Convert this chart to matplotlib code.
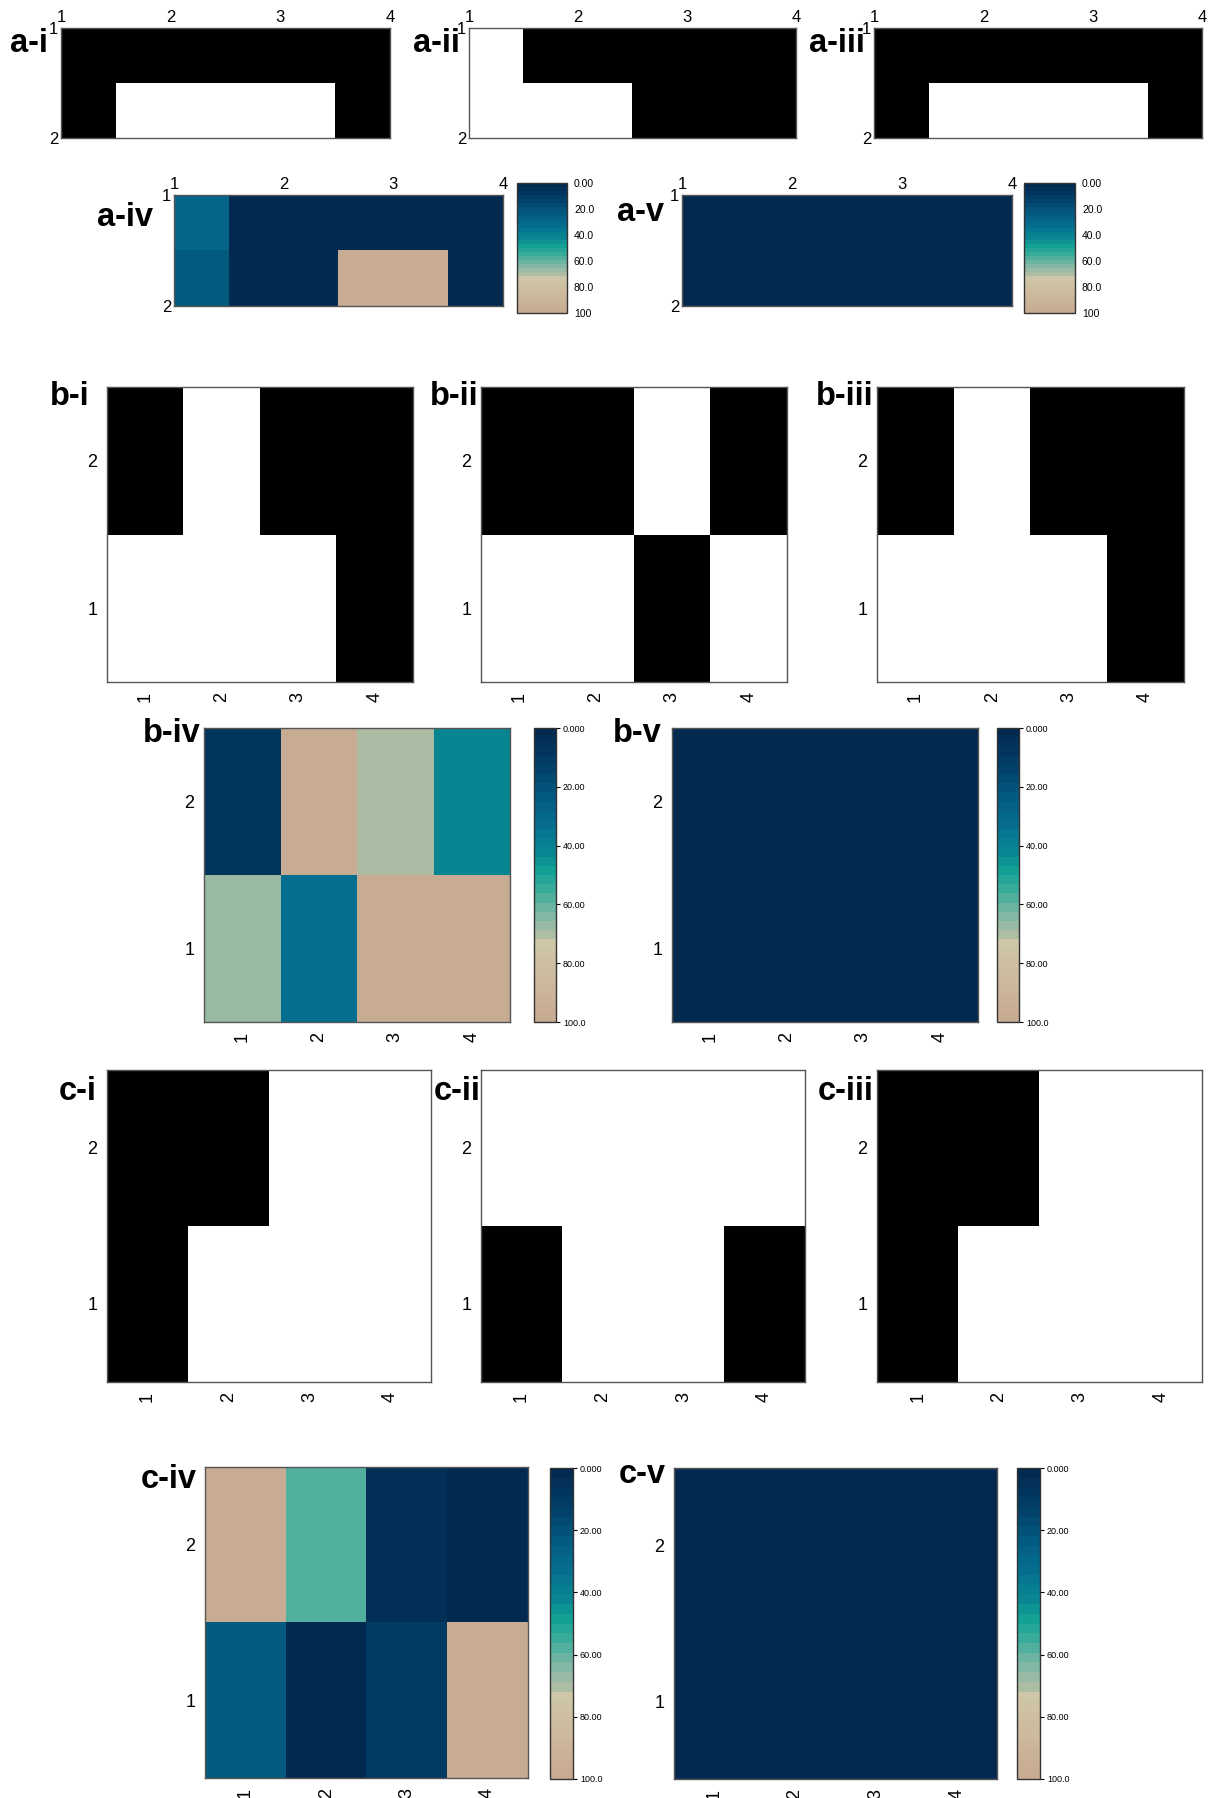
import numpy as np
import matplotlib
matplotlib.use('Agg')
from matplotlib import pyplot as plt
from matplotlib.colors import ListedColormap, LinearSegmentedColormap

plt.rcParams['font.family'] = ['Liberation Sans', 'DejaVu Sans']

W, H = 1210, 1798

# grid values, rows listed in the order they are stored (row 1 first)
a_i = [[1, 1, 1, 1], [1, 0, 0, 1]]
a_ii = [[0, 1, 1, 1], [0, 0, 1, 1]]
a_iii = [[1, 1, 1, 1], [1, 0, 0, 1]]
a_iv = [[30, 0, 0, 0], [22, 0, 100, 0]]
a_v = [[0, 0, 0, 0], [0, 0, 0, 0]]

b_i = [[0, 0, 0, 1], [1, 0, 1, 1]]
b_ii = [[0, 0, 1, 0], [1, 1, 0, 1]]
b_iii = [[0, 0, 0, 1], [1, 0, 1, 1]]
b_iv = [[67, 33, 100, 100], [8, 100, 71, 42]]
b_v = [[0, 0, 0, 0], [0, 0, 0, 0]]

c_i = [[1, 0, 0, 0], [1, 1, 0, 0]]
c_ii = [[1, 0, 0, 1], [0, 0, 0, 0]]
c_iii = [[1, 0, 0, 0], [1, 1, 0, 0]]
c_iv = [[23, 0, 10, 100], [100, 57, 6, 0]]
c_v = [[0, 0, 0, 0], [0, 0, 0, 0]]

x_ticks = [1, 2, 3, 4]
y_ticks = [1, 2]
cbar_ticks = [0, 20, 40, 60, 80, 100]
cbar_labels_short = ['0.00', '20.0', '40.0', '60.0', '80.0', '100']
cbar_labels_long = ['0.000', '20.00', '40.00', '60.00', '80.00', '100.0']

binary = ListedColormap(['white', 'black'])
ocean = LinearSegmentedColormap.from_list('ocean_sand', [
    (0.00, '#022a50'),
    (0.12, '#023f68'),
    (0.22, '#03597f'),
    (0.33, '#057090'),
    (0.42, '#0a8692'),
    (0.48, '#10a094'),
    (0.55, '#3aab9b'),
    (0.62, '#6fb5a2'),
    (0.68, '#9bbaa4'),
    (0.72, '#b2bea4'),
    (0.74, '#cec6a6'),
    (0.85, '#cebb9f'),
    (1.00, '#c7ab92'),
], N=32)

fig = plt.figure(figsize=(W / 100, H / 100), dpi=100)


def px_axes(x0, y0, x1, y1):
    return fig.add_axes([x0 / W, 1 - y1 / H, (x1 - x0) / W, (y1 - y0) / H])


def style_spines(ax):
    for s in ax.spines.values():
        s.set_color('#555555')
        s.set_linewidth(1)


def panel_label(label, pos):
    fig.text(pos[0] / W, 1 - pos[1] / H, label, ha='right', va='baseline',
             fontsize=23.5, fontweight='bold')


def top_panel(box, data, label, pos, cmap, vmin, vmax):
    ax = px_axes(*box)
    im = ax.imshow(np.array(data), cmap=cmap, vmin=vmin, vmax=vmax, origin='upper',
                   extent=[0.5, 4.5, 2.5, 0.5], aspect='auto', interpolation='nearest')
    ax.set_xlim(1, 4)
    ax.set_ylim(2, 1)
    ax.xaxis.tick_top()
    ax.set_xticks(x_ticks)
    ax.set_yticks(y_ticks)
    ax.tick_params(length=0, labelsize=12, pad=2)
    style_spines(ax)
    panel_label(label, pos)
    return im


def grid_panel(box, data, label, pos, cmap, vmin, vmax):
    ax = px_axes(*box)
    im = ax.imshow(np.array(data), cmap=cmap, vmin=vmin, vmax=vmax, origin='lower',
                   extent=[0.5, 4.5, 0.5, 2.5], aspect='auto', interpolation='nearest')
    ax.set_xticks(x_ticks)
    ax.set_yticks(y_ticks)
    ax.tick_params(length=0, labelsize=13, pad=7)
    for t in ax.get_xticklabels():
        t.set_rotation(90)
    style_spines(ax)
    panel_label(label, pos)
    return im


def add_cbar(im, box, labels, ticklen, fsize):
    cax = px_axes(*box)
    cb = fig.colorbar(im, cax=cax)
    cax.set_ylim(100, 0)
    cb.set_ticks(cbar_ticks)
    cb.set_ticklabels(labels)
    cax.tick_params(length=ticklen, width=0.8, labelsize=fsize, pad=2 if ticklen else 5)
    cb.outline.set_edgecolor('#333333')
    cb.outline.set_linewidth(1)


# row a
top_panel((61, 28, 390, 138), a_i, 'a-i', (48, 52), binary, 0, 1)
top_panel((469, 28, 796, 138), a_ii, 'a-ii', (460, 52), binary, 0, 1)
top_panel((874, 28, 1202, 138), a_iii, 'a-iii', (865, 52), binary, 0, 1)
im = top_panel((174, 195, 503, 306), a_iv, 'a-iv', (153, 226), ocean, 0, 100)
add_cbar(im, (517, 183, 567, 313), cbar_labels_short, 0, 7.5)
im = top_panel((682, 195, 1012, 306), a_v, 'a-v', (664, 221), ocean, 0, 100)
add_cbar(im, (1024, 183, 1075, 313), cbar_labels_short, 0, 7.5)

# row b
grid_panel((107, 387, 413, 682), b_i, 'b-i', (90, 405), binary, 0, 1)
grid_panel((481, 387, 787, 682), b_ii, 'b-ii', (478, 405), binary, 0, 1)
grid_panel((877, 387, 1184, 682), b_iii, 'b-iii', (873, 405), binary, 0, 1)
im = grid_panel((204, 728, 510, 1022), b_iv, 'b-iv', (201, 742), ocean, 0, 100)
add_cbar(im, (534, 728, 556, 1022), cbar_labels_long, 3, 6.5)
im = grid_panel((672, 728, 978, 1022), b_v, 'b-v', (662, 742), ocean, 0, 100)
add_cbar(im, (997, 728, 1019, 1022), cbar_labels_long, 3, 6.5)

# row c
grid_panel((107, 1070, 431, 1382), c_i, 'c-i', (97, 1100), binary, 0, 1)
grid_panel((481, 1070, 805, 1382), c_ii, 'c-ii', (481, 1100), binary, 0, 1)
grid_panel((877, 1070, 1202, 1382), c_iii, 'c-iii', (874, 1100), binary, 0, 1)
im = grid_panel((205, 1467, 528, 1778), c_iv, 'c-iv', (197, 1488), ocean, 0, 100)
add_cbar(im, (550, 1468, 573, 1779), cbar_labels_long, 3, 6.5)
im = grid_panel((674, 1468, 997, 1779), c_v, 'c-v', (666, 1483), ocean, 0, 100)
add_cbar(im, (1017, 1468, 1040, 1779), cbar_labels_long, 3, 6.5)

fig.savefig('out.png', dpi=100)
